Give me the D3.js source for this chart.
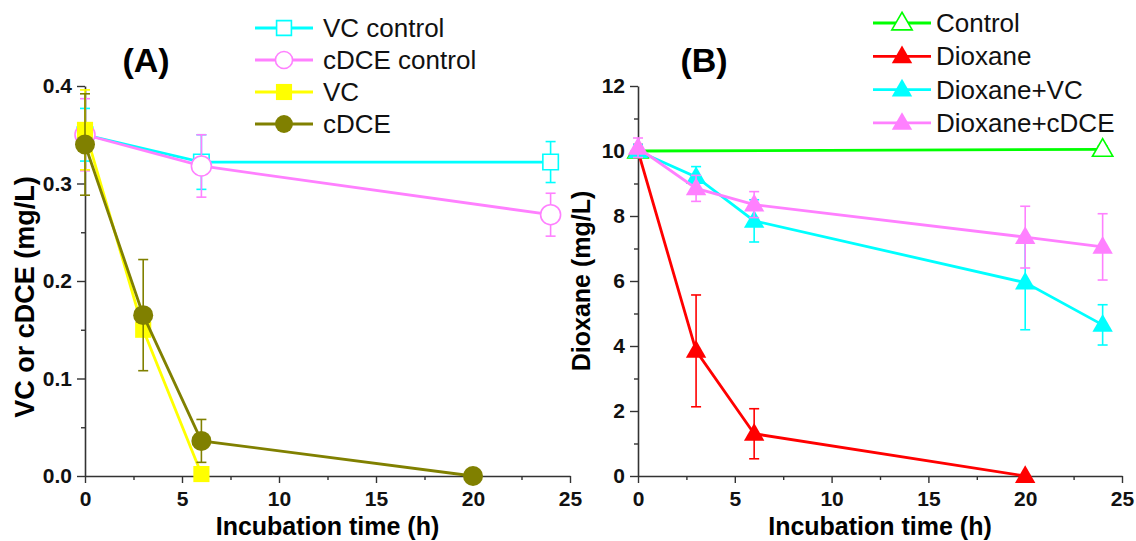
<html>
<head>
<meta charset="utf-8">
<title>VC / cDCE and Dioxane</title>
<style>
  body { margin: 0; background: #fff; }
  text { font-family: "Liberation Sans", Arial, sans-serif; }
</style>
</head>
<body>
<script src="https://d3js.org/d3.v7.min.js"></script>
<script>

// ---- data, panel A (mg/L) ----
var timeA_ctrl = [0, 6, 24];
var vcControl = [0.350, 0.322, 0.322];
var vcControlErr = [0.027, 0.028, 0.021];
var cdceControl = [0.350, 0.318, 0.268];
var cdceControlErr = [0.037, 0.032, 0.022];

var timeA_vc = [0, 3, 6];
var vc = [0.355, 0.150, 0.002];
var vcErr = [0.041, 0.005, 0.0];

var timeA_cdce = [0, 3, 6, 20];
var cdce = [0.340, 0.165, 0.036, 0.0];
var cdceErr = [0.052, 0.057, 0.022, 0.0];

// ---- data, panel B (mg/L) ----
var timeB_ctrl = [0, 24];
var control = [10.0, 10.05];
var controlErr = [0.1, 0.1];

var timeB_diox = [0, 3, 6, 20];
var dioxane = [10.0, 3.85, 1.3, 0.0];
var dioxaneErr = [0.2, 1.72, 0.77, 0.0];

var timeB = [0, 3, 6, 20, 24];
var dioxaneVC = [10.0, 9.2, 7.85, 5.95, 4.65];
var dioxaneVCErr = [0.2, 0.32, 0.65, 1.45, 0.62];
var dioxaneCDCE = [10.1, 8.85, 8.35, 7.35, 7.05];
var dioxaneCDCEErr = [0.3, 0.4, 0.4, 0.95, 1.02];

var xTicks = [0, 5, 10, 15, 20, 25];
var yTicksA = [0.0, 0.1, 0.2, 0.3, 0.4];
var yTicksB = [0, 2, 4, 6, 8, 10, 12];

var w = 1136, h = 541;

var svg = d3.select('body').append('svg')
    .attr('width', w)
    .attr('height', h)
    .style('background', '#fff');

function zip(xs, ys, es) {
  return xs.map(function(x, i) { return {x: x, y: ys[i], e: es[i]}; });
}

function isTri(s) { return s.shape === d3.symbolTriangle; }

// one panel: axes + series + legend
function drawPanel(opt) {
  var x = d3.scaleLinear().domain([0, 25]).range(opt.xRange);
  var y = d3.scaleLinear().domain(opt.yDomain).range([476, 86]);
  var g = svg.append('g');

  // bottom axis, major + minor
  g.append('g').attr('transform', 'translate(0,476)')
      .call(d3.axisBottom(x).tickValues(xTicks).tickSize(7).tickSizeOuter(0).tickPadding(8));
  g.append('g').attr('transform', 'translate(0,476)')
      .call(d3.axisBottom(x).tickValues([2.5, 7.5, 12.5, 17.5, 22.5]).tickSize(4).tickFormat(''))
      .select('.domain').remove();

  // left axis, major + minor
  g.append('g').attr('transform', 'translate(' + opt.xRange[0] + ',0)')
      .call(d3.axisLeft(y).tickValues(opt.yTicks).tickSize(8).tickSizeOuter(0)
            .tickPadding(5).tickFormat(opt.yFormat));
  g.append('g').attr('transform', 'translate(' + opt.xRange[0] + ',0)')
      .call(d3.axisLeft(y).tickValues(opt.yMinor).tickSize(4).tickFormat(''))
      .select('.domain').remove();

  g.selectAll('.domain').attr('stroke', '#333').attr('stroke-width', 1.6);
  g.selectAll('.tick line').attr('stroke', '#333').attr('stroke-width', 1.4);
  g.selectAll('.tick text')
      .attr('font-family', '"Liberation Sans", Arial, sans-serif')
      .attr('font-size', 21).attr('font-weight', 'bold').attr('fill', '#111');

  // axis titles
  g.append('text')
      .attr('x', (opt.xRange[0] + opt.xRange[1]) / 2).attr('y', 535)
      .attr('text-anchor', 'middle')
      .attr('font-size', 25).attr('font-weight', 'bold')
      .text('Incubation time (h)');
  g.append('text')
      .attr('transform', 'translate(' + opt.yLabelX + ',' + opt.yLabelY + ') rotate(-90)')
      .attr('text-anchor', 'middle')
      .attr('font-size', opt.yLabelSize).attr('font-weight', 'bold')
      .text(opt.yLabel);

  // panel letter
  g.append('text')
      .attr('x', opt.titleX).attr('y', 72)
      .attr('text-anchor', 'middle')
      .attr('font-size', 34).attr('font-weight', 'bold')
      .text(opt.title);

  opt.series.forEach(function(s) {
    var pts = zip(s.xs, s.ys, s.es);
    var sg = g.append('g');

    // error bars
    pts.forEach(function(p) {
      if (!p.e) return;
      var px = x(p.x), y0 = y(p.y - p.e), y1 = y(p.y + p.e);
      sg.append('line').attr('x1', px).attr('x2', px).attr('y1', y0).attr('y2', y1)
          .attr('stroke', s.color).attr('stroke-width', 1.6);
      [y0, y1].forEach(function(yy) {
        sg.append('line').attr('x1', px - 5).attr('x2', px + 5).attr('y1', yy).attr('y2', yy)
            .attr('stroke', s.color).attr('stroke-width', 1.6);
      });
    });

    sg.append('path')
        .datum(pts)
        .attr('fill', 'none')
        .attr('stroke', s.color)
        .attr('stroke-width', 2.8)
        .attr('d', d3.line().x(function(d) { return x(d.x); }).y(function(d) { return y(d.y); }));

    sg.selectAll('path.mark')
        .data(pts)
        .enter()
        .append('path')
        .attr('class', 'mark')
        .attr('transform', function(d) {
          return 'translate(' + x(d.x) + ',' + (y(d.y) + (isTri(s) ? 1 : 0)) + ')';
        })
        .attr('d', d3.symbol().type(s.shape).size(s.size))
        .attr('fill', s.open ? '#fff' : s.color)
        .attr('stroke', s.color)
        .attr('stroke-width', s.open ? 1.6 : 0);
  });

  // legend
  var lg = svg.append('g');
  opt.series.forEach(function(s, i) {
    var ly = opt.legend.y + i * opt.legend.dy;
    lg.append('line')
        .attr('x1', opt.legend.x).attr('x2', opt.legend.x + 58)
        .attr('y1', ly).attr('y2', ly)
        .attr('stroke', s.color).attr('stroke-width', 2.8);
    lg.append('path')
        .attr('transform', 'translate(' + (opt.legend.x + 29) + ',' + (ly + (isTri(s) ? 1 : 0)) + ')')
        .attr('d', d3.symbol().type(s.shape).size(s.legendSize || s.size))
        .attr('fill', s.open ? '#fff' : s.color)
        .attr('stroke', s.color)
        .attr('stroke-width', s.open ? 1.6 : 0);
    lg.append('text')
        .attr('x', opt.legend.x + opt.legend.textDx).attr('y', ly + 9)
        .attr('font-size', 26).attr('fill', '#111')
        .text(s.name);
  });
}

drawPanel({
  xRange: [85, 570],
  yDomain: [0, 0.4],
  yTicks: yTicksA,
  yMinor: [0.05, 0.15, 0.25, 0.35],
  yFormat: d3.format('.1f'),
  yLabel: 'VC or cDCE (mg/L)',
  yLabelX: 34,
  yLabelY: 297,
  yLabelSize: 27,
  title: '(A)',
  titleX: 146,
  legend: {x: 255, y: 28, dy: 32, textDx: 68},
  series: [
    {name: 'VC control', xs: timeA_ctrl, ys: vcControl, es: vcControlErr, color: '#00ffff', shape: d3.symbolSquare, size: 240, legendSize: 220, open: true},
    {name: 'cDCE control', xs: timeA_ctrl, ys: cdceControl, es: cdceControlErr, color: '#ff80ff', shape: d3.symbolCircle, size: 314, legendSize: 230, open: true},
    {name: 'VC', xs: timeA_vc, ys: vc, es: vcErr, color: '#ffff00', shape: d3.symbolSquare, size: 260, legendSize: 260, open: false},
    {name: 'cDCE', xs: timeA_cdce, ys: cdce, es: cdceErr, color: '#808000', shape: d3.symbolCircle, size: 314, legendSize: 250, open: false}
  ]
});

drawPanel({
  xRange: [638, 1122],
  yDomain: [0, 12],
  yTicks: yTicksB,
  yMinor: [1, 3, 5, 7, 9, 11],
  yFormat: d3.format('d'),
  yLabel: 'Dioxane (mg/L)',
  yLabelX: 590,
  yLabelY: 281,
  yLabelSize: 25,
  title: '(B)',
  titleX: 704,
  legend: {x: 873, y: 23, dy: 33.3, textDx: 63},
  series: [
    {name: 'Control', xs: timeB_ctrl, ys: control, es: controlErr, color: '#00ff00', shape: d3.symbolTriangle, size: 180, open: true},
    {name: 'Dioxane', xs: timeB_diox, ys: dioxane, es: dioxaneErr, color: '#ff0000', shape: d3.symbolTriangle, size: 180, open: false},
    {name: 'Dioxane+VC', xs: timeB, ys: dioxaneVC, es: dioxaneVCErr, color: '#00ffff', shape: d3.symbolTriangle, size: 180, open: false},
    {name: 'Dioxane+cDCE', xs: timeB, ys: dioxaneCDCE, es: dioxaneCDCEErr, color: '#ff80ff', shape: d3.symbolTriangle, size: 180, open: false}
  ]
});

</script>
</body>
</html>
